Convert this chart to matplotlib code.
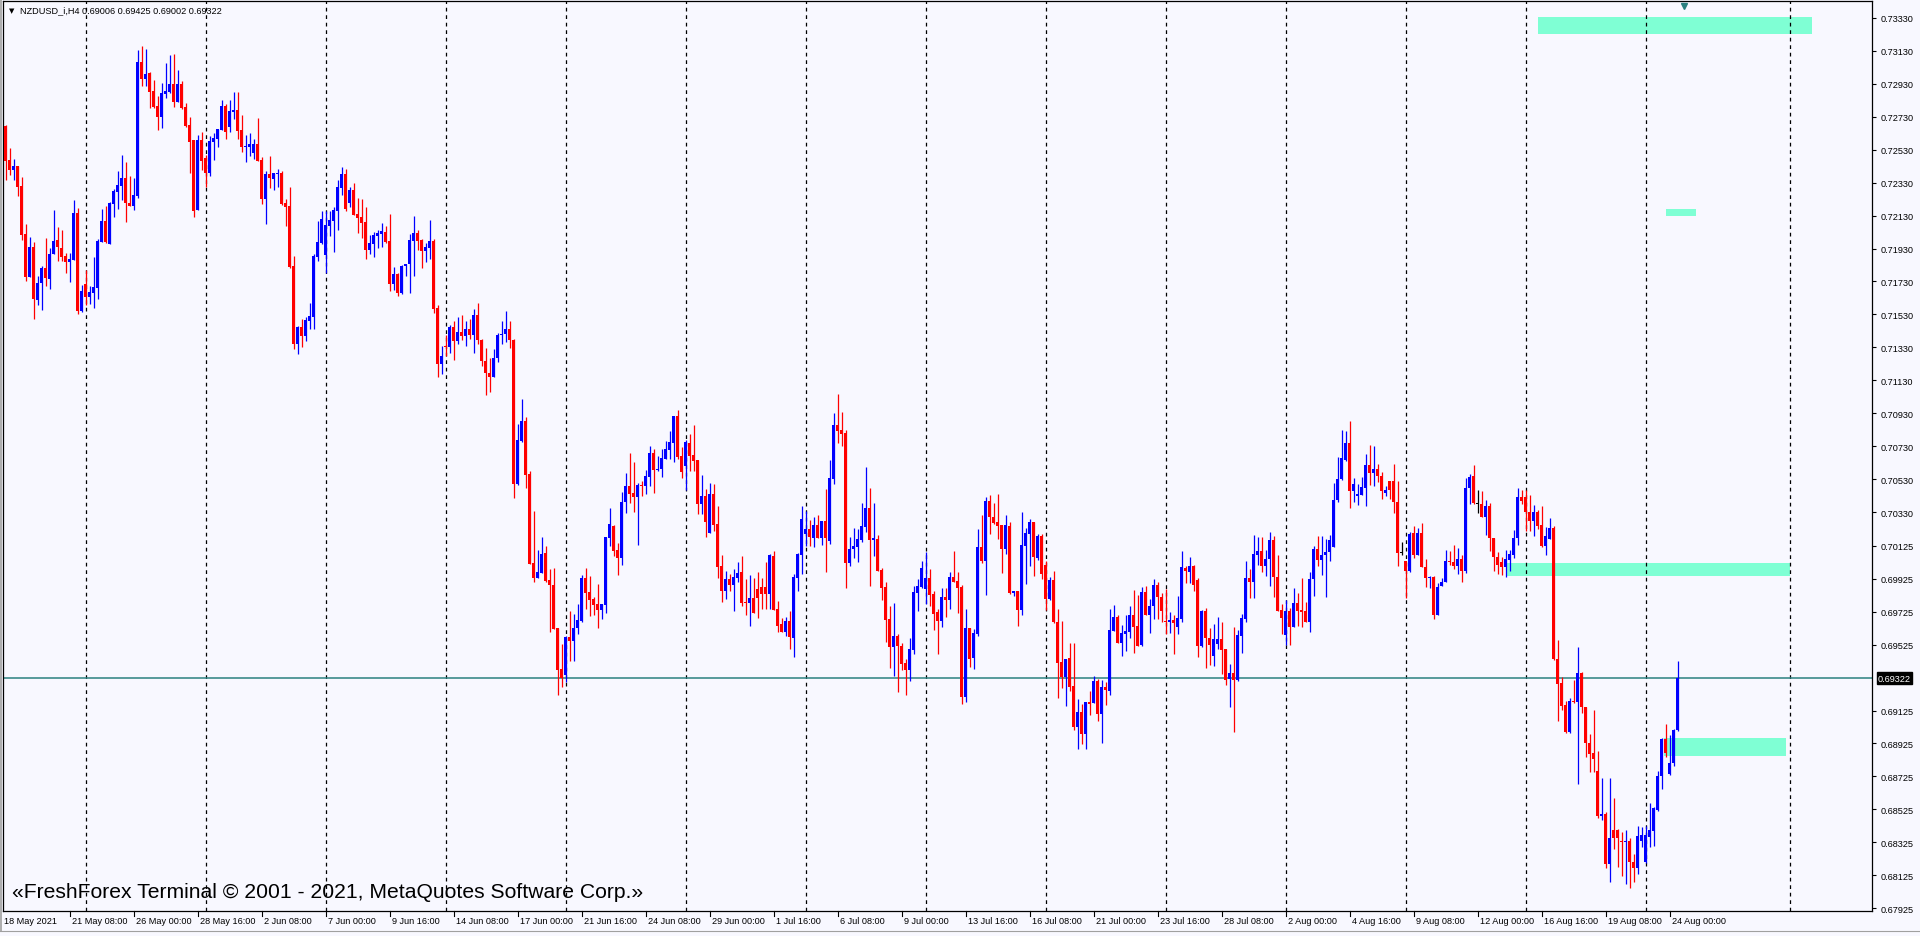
import numpy as np
import matplotlib
matplotlib.use('Agg')
import matplotlib.pyplot as plt
from matplotlib.patches import Rectangle
from matplotlib.transforms import blended_transform_factory, offset_copy

plt.rcParams['font.family'] = ['Liberation Sans', 'DejaVu Sans']

# NZDUSD H4 candles, prices in points (1e-5), bar 0 = 18/19 May 2021
opens = [72676, 72468, 72405, 72431, 72310, 72018, 71759, 71939, 71620, 71721,
         71812, 71747, 71897, 71982, 71933, 71885, 71848, 71862, 72146, 71551,
         71715, 71638, 71662, 71693, 71972, 72097, 71960, 72203, 72273, 72310,
         72358, 72209, 72190, 72249, 73063, 72959, 72996, 72887, 72795, 72729,
         72868, 72880, 72929, 72820, 72929, 72789, 72680, 72589, 72164, 72589,
         72480, 72391, 72577, 72595, 72652, 72795, 72668, 72761, 72771, 72650,
         72547, 72547, 72510, 72565, 72468, 72231, 72383, 72352, 72383, 72389,
         72207, 72188, 71824, 71350, 71456, 71400, 71490, 71516, 71879, 71964,
         71891, 72067, 72097, 72158, 72298, 72383, 72207, 72285, 72140, 72122,
         72091, 71921, 71958, 72006, 72018, 72030, 71976, 71715, 71775, 71660,
         71824, 71836, 71976, 72024, 71982, 71915, 71933, 71976, 71569, 71229,
         71338, 71332, 71454, 71369, 71423, 71399, 71441, 71405, 71526, 71375,
         71247, 71174, 71150, 71265, 71405, 71411, 71441, 71375, 70500, 70761,
         70883, 70561, 70021, 69930, 69960, 70081, 69917, 69887, 69626, 69377,
         69341, 69571, 69547, 69626, 69669, 69930, 69845, 69802, 69772, 69735,
         69766, 70172, 70245, 70100, 70051, 70391, 70488, 70446, 70421, 70494,
         70488, 70543, 70688, 70585, 70591, 70652, 70707, 70749, 70913, 70670,
         70610, 70749, 70676, 70646, 70379, 70427, 70203, 70440, 70257, 70002,
         69851, 69923, 69887, 69930, 69966, 69784, 69778, 69808, 69863, 69875,
         69875, 69832, 70063, 69741, 69650, 69602, 69669, 69565, 69930, 70069,
         70197, 70227, 70172, 70251, 70172, 70276, 70154, 70531, 70859, 70828,
         70810, 70021, 70106, 70118, 70161, 70240, 70355, 70161, 70167, 69979,
         69876, 69681, 69511, 69578, 69517, 69414, 69372, 69493, 69839, 69876,
         69864, 69930, 69833, 69724, 69669, 69815, 69797, 69936, 69912, 69876,
         69208, 69627, 69444, 69590, 70118, 70033, 70398, 70301, 70270, 70252,
         70106, 70246, 69839, 69851, 69736, 70124, 70197, 70270, 70052, 70185,
         70009, 69803, 69918, 69663, 69420, 69329, 69444, 69274, 69026, 69117,
         68983, 69177, 69171, 69305, 69104, 69268, 69244, 69608, 69693, 69536,
         69590, 69602, 69705, 69639, 69523, 69845, 69705, 69760, 69888, 69815,
         69669, 69663, 69675, 69633, 69681, 69991, 69967, 70003, 69918, 69517,
         69730, 69566, 69457, 69530, 69560, 69499, 69317, 69353, 69311, 69578,
         69681, 69930, 69906, 70070, 70094, 70003, 70046, 70161, 69933, 69736,
         69582, 69730, 69631, 69777, 69736, 69730, 69662, 69923, 70104, 70042,
         70069, 70089, 70118, 70401, 70530, 70648, 70748, 70457, 70426, 70436,
         70479, 70613, 70569, 70590, 70547, 70448, 70516, 70516, 70389, 70083,
         70032, 69974, 70204, 70071, 70204, 69995, 69929, 69935, 69703, 69882,
         69908, 70032, 70024, 70001, 70046, 69970, 70475, 70547, 70381, 70381,
         70299, 70364, 70171, 70060, 70026, 69999, 70040, 70069, 70171, 70422,
         70422, 70333, 70278, 70333, 70251, 70124, 70165, 70231, 69440, 69293,
         69157, 68995, 69180, 69174, 69354, 69145, 68929, 68868, 68759, 68486,
         68496, 68195, 68400, 68400, 68332, 68328, 68334, 68205, 68168, 68334,
         68205, 68359, 68394, 68523, 68728, 68954, 68738, 68804, 69006]
highs = [72680, 72540, 72474, 72431, 72364, 72079, 72000, 71968, 71765, 71824,
         71994, 71933, 72164, 72061, 72043, 71903, 71903, 72225, 72176, 71709,
         71800, 71703, 71879, 71988, 72170, 72190, 72211, 72294, 72401, 72498,
         72455, 72370, 72358, 73135, 73160, 73142, 73002, 72953, 72856, 72935,
         73057, 73105, 73111, 73014, 72947, 72814, 72729, 72589, 72619, 72638,
         72498, 72613, 72632, 72656, 72834, 72808, 72832, 72880, 72880, 72741,
         72619, 72632, 72595, 72723, 72486, 72401, 72492, 72389, 72413, 72401,
         72231, 72304, 71885, 71460, 71502, 71514, 71599, 71897, 72097, 72158,
         72158, 72158, 72182, 72346, 72425, 72413, 72304, 72328, 72237, 72231,
         72182, 72012, 72030, 72043, 72085, 72067, 72140, 71818, 71782, 71830,
         71836, 72018, 72128, 72043, 71988, 71964, 72103, 71990, 71587, 71338,
         71405, 71466, 71490, 71514, 71526, 71490, 71502, 71563, 71599, 71381,
         71326, 71265, 71320, 71417, 71490, 71551, 71490, 71381, 70865, 71016,
         70907, 70579, 70336, 70100, 70178, 70124, 69984, 69990, 69626, 69529,
         69577, 69729, 69711, 69772, 69948, 69990, 69942, 69814, 69893, 69772,
         70178, 70355, 70251, 70142, 70452, 70567, 70688, 70634, 70506, 70519,
         70585, 70731, 70713, 70670, 70713, 70761, 70822, 70913, 70950, 70725,
         70767, 70804, 70859, 70646, 70555, 70470, 70506, 70500, 70367, 70069,
         69972, 69954, 69984, 70027, 70063, 69923, 69948, 69930, 69966, 69930,
         70027, 70075, 70094, 69790, 69687, 69693, 69729, 69954, 70081, 70367,
         70336, 70282, 70300, 70312, 70276, 70470, 70646, 70931, 71047, 70937,
         70828, 70178, 70234, 70228, 70386, 70604, 70477, 70386, 70191, 69991,
         69906, 69760, 69778, 69590, 69536, 69438, 69566, 69882, 69924, 70033,
         70088, 69985, 69851, 69742, 69869, 69869, 69967, 70094, 69967, 69888,
         69742, 69627, 69620, 70228, 70313, 70422, 70434, 70386, 70440, 70252,
         70313, 70270, 69851, 69851, 70331, 70234, 70288, 70270, 70197, 70197,
         70033, 69936, 69973, 69742, 69669, 69438, 69536, 69536, 69195, 69165,
         69177, 69244, 69335, 69317, 69311, 69299, 69742, 69766, 69705, 69645,
         69705, 69760, 69857, 69827, 69876, 69882, 69803, 69924, 69906, 69839,
         69863, 69724, 69705, 69821, 70094, 70003, 70058, 70009, 69930, 69736,
         69748, 69627, 69651, 69693, 69663, 69499, 69408, 69633, 69614, 69712,
         70033, 69985, 70191, 70179, 70179, 70100, 70209, 70186, 70069, 69773,
         69798, 69748, 69872, 69837, 69929, 69785, 69964, 70124, 70184, 70184,
         70169, 70192, 70504, 70662, 70828, 70822, 70884, 70535, 70498, 70541,
         70684, 70736, 70732, 70621, 70572, 70487, 70518, 70623, 70520, 70149,
         70032, 70210, 70243, 70231, 70262, 70046, 69943, 69943, 69898, 69929,
         70102, 70093, 70128, 70114, 70071, 70535, 70561, 70617, 70467, 70459,
         70405, 70387, 70171, 70087, 70056, 70102, 70102, 70221, 70477, 70463,
         70467, 70432, 70374, 70344, 70364, 70237, 70294, 70247, 69553, 69330,
         69180, 69204, 69309, 69508, 69358, 69145, 68981, 69129, 68878, 68714,
         68509, 68714, 68595, 68404, 68390, 68400, 68349, 68256, 68427, 68420,
         68427, 68564, 68539, 68759, 68960, 69042, 68975, 69016, 69425]
lows = [72348, 72379, 72348, 72251, 71984, 71735, 71755, 71504, 71589, 71559,
        71705, 71686, 71897, 71854, 71854, 71784, 71729, 71862, 71535, 71545,
        71589, 71593, 71571, 71626, 71968, 71964, 71958, 72124, 72170, 72227,
        72093, 72190, 72164, 72237, 72917, 72917, 72783, 72781, 72652, 72662,
        72844, 72874, 72789, 72820, 72777, 72668, 72391, 72124, 72164, 72407,
        72304, 72370, 72468, 72547, 72652, 72595, 72638, 72717, 72595, 72518,
        72455, 72492, 72474, 72462, 72201, 72079, 72298, 72285, 72304, 72194,
        72069, 71814, 71320, 71290, 71330, 71370, 71440, 71441, 71854, 71958,
        71782, 72006, 71909, 72043, 72255, 72158, 72182, 72134, 72024, 71994,
        71866, 71897, 71879, 71933, 71939, 71964, 71672, 71678, 71642, 71654,
        71763, 71660, 71763, 71921, 71812, 71848, 71866, 71537, 71152, 71168,
        71277, 71296, 71253, 71350, 71375, 71338, 71381, 71296, 71350, 71217,
        71041, 71059, 71150, 71241, 71350, 71362, 71326, 70415, 70494, 70755,
        70476, 70015, 69905, 69930, 69960, 69905, 69602, 69620, 69219, 69268,
        69298, 69426, 69426, 69590, 69662, 69741, 69699, 69705, 69626, 69681,
        69717, 70124, 70063, 69948, 70008, 70324, 70385, 70330, 70130, 70427,
        70440, 70488, 70446, 70579, 70543, 70652, 70652, 70634, 70652, 70537,
        70464, 70579, 70579, 70318, 70318, 70178, 70203, 70215, 69930, 69784,
        69802, 69851, 69729, 69905, 69760, 69705, 69638, 69717, 69687, 69741,
        69741, 69741, 69735, 69602, 69602, 69577, 69498, 69450, 69851, 69954,
        70124, 70124, 70118, 70172, 70130, 69966, 70136, 70500, 70749, 70731,
        69869, 70002, 70052, 70027, 70149, 70209, 69882, 70064, 69973, 69797,
        69542, 69384, 69335, 69238, 69372, 69220, 69305, 69469, 69730, 69869,
        69772, 69760, 69614, 69469, 69633, 69693, 69742, 69906, 69718, 69165,
        69177, 69390, 69378, 69578, 70021, 69827, 70197, 70258, 70167, 69961,
        70076, 69833, 69821, 69639, 69706, 69894, 70003, 69942, 70039, 69924,
        69736, 69797, 69657, 69202, 69262, 69153, 69244, 69007, 68892, 68922,
        68892, 69098, 69171, 69062, 68928, 69159, 69220, 69608, 69536, 69457,
        69487, 69566, 69475, 69517, 69517, 69705, 69596, 69681, 69681, 69663,
        69590, 69596, 69469, 69590, 69663, 69900, 69900, 69851, 69450, 69511,
        69384, 69402, 69396, 69499, 69347, 69280, 69147, 68995, 69305, 69475,
        69663, 69809, 69809, 70009, 69967, 69942, 69882, 69816, 69730, 69588,
        69521, 69521, 69631, 69638, 69631, 69662, 69599, 69822, 70005, 69950,
        69816, 70032, 70118, 70389, 70524, 70641, 70354, 70391, 70374, 70436,
        70364, 70494, 70487, 70514, 70407, 70430, 70409, 70327, 70005, 70067,
        69806, 69968, 70050, 70069, 69995, 69878, 69872, 69679, 69703, 69882,
        69905, 70011, 69985, 69954, 69908, 69962, 70377, 70377, 70323, 70299,
        70190, 70095, 69970, 69952, 69950, 69937, 69974, 70052, 70130, 70381,
        70216, 70216, 70186, 70227, 70120, 70069, 70165, 69432, 69063, 69129,
        68989, 68989, 69170, 68677, 69108, 68841, 68753, 68753, 68472, 68461,
        68168, 68082, 68287, 68174, 68123, 68071, 68045, 68082, 68133, 68297,
        68201, 68297, 68304, 68513, 68650, 68845, 68734, 68790, 69002]
closes = [72464, 72409, 72433, 72306, 72014, 71759, 71939, 71626, 71721, 71812,
          71753, 71897, 71976, 71939, 71879, 71848, 71866, 72146, 71551, 71672,
          71638, 71666, 71697, 71976, 72097, 71968, 72207, 72279, 72316, 72358,
          72209, 72190, 72255, 73063, 72959, 72990, 72880, 72789, 72729, 72874,
          72887, 72929, 72820, 72929, 72783, 72674, 72579, 72158, 72589, 72462,
          72391, 72583, 72601, 72656, 72795, 72638, 72765, 72771, 72644, 72547,
          72553, 72565, 72565, 72462, 72231, 72383, 72358, 72389, 72389, 72201,
          72182, 71818, 71350, 71456, 71400, 71496, 71520, 71885, 71970, 72109,
          72073, 72103, 72164, 72304, 72383, 72170, 72285, 72134, 72115, 72085,
          71921, 71964, 72012, 72024, 72037, 71970, 71715, 71775, 71660, 71824,
          71836, 71982, 72024, 71976, 71915, 71939, 71976, 71563, 71229, 71277,
          71332, 71454, 71369, 71423, 71399, 71441, 71405, 71526, 71375, 71247,
          71174, 71150, 71265, 71405, 71411, 71441, 71375, 70500, 70767, 70883,
          70555, 70015, 69930, 69966, 70075, 69911, 69887, 69620, 69371, 69322,
          69571, 69547, 69626, 69675, 69930, 69839, 69796, 69766, 69735, 69772,
          70178, 70257, 70094, 70051, 70391, 70488, 70440, 70421, 70494, 70488,
          70549, 70688, 70585, 70591, 70658, 70713, 70755, 70913, 70664, 70573,
          70755, 70670, 70640, 70379, 70427, 70270, 70440, 70251, 69996, 69851,
          69923, 69887, 69935, 69960, 69778, 69778, 69808, 69717, 69808, 69832,
          69832, 70069, 69735, 69638, 69602, 69669, 69571, 69936, 70075, 70288,
          70227, 70178, 70251, 70172, 70276, 70172, 70537, 70859, 70822, 70804,
          70021, 70106, 70124, 70167, 70246, 70355, 70161, 70173, 69973, 69869,
          69675, 69511, 69578, 69517, 69408, 69372, 69499, 69845, 69882, 69991,
          69930, 69827, 69712, 69669, 69815, 69797, 69936, 69906, 69869, 69208,
          69627, 69438, 69596, 70118, 70033, 70398, 70301, 70264, 70246, 70106,
          70252, 69839, 69851, 69736, 70131, 70203, 70270, 70058, 70185, 69954,
          69803, 69918, 69663, 69414, 69329, 69438, 69268, 69026, 69117, 68983,
          69177, 69165, 69305, 69104, 69268, 69250, 69614, 69693, 69536, 69596,
          69608, 69705, 69633, 69517, 69845, 69705, 69760, 69888, 69815, 69730,
          69663, 69675, 69657, 69687, 69997, 69973, 70003, 69888, 69517, 69730,
          69566, 69523, 69560, 69560, 69493, 69311, 69353, 69311, 69584, 69687,
          69930, 69906, 70076, 70094, 70003, 70046, 70161, 69933, 69730, 69687,
          69730, 69631, 69777, 69730, 69724, 69662, 69923, 70104, 70042, 70069,
          70089, 70159, 70405, 70530, 70658, 70748, 70457, 70498, 70442, 70485,
          70613, 70569, 70590, 70547, 70455, 70467, 70463, 70389, 70083, 70083,
          69974, 70196, 70071, 70204, 69995, 69929, 69935, 69703, 69874, 69908,
          70032, 70024, 70001, 70046, 69974, 70475, 70541, 70383, 70381, 70299,
          70364, 70171, 70060, 70011, 69999, 70044, 70073, 70171, 70422, 70395,
          70333, 70278, 70333, 70247, 70124, 70186, 70231, 69436, 69289, 69153,
          68995, 69184, 69174, 69350, 69145, 68929, 68861, 68831, 68486, 68496,
          68195, 68349, 68349, 68349, 68328, 68332, 68205, 68168, 68363, 68369,
          68369, 68400, 68533, 68728, 68954, 68866, 68804, 69005, 69322]

# x-axis time labels, one every 16 bars
time_labels = ['18 May 2021', '21 May 08:00', '26 May 00:00', '28 May 16:00', '2 Jun 08:00',
               '7 Jun 00:00', '9 Jun 16:00', '14 Jun 08:00', '17 Jun 00:00', '21 Jun 16:00',
               '24 Jun 08:00', '29 Jun 00:00', '1 Jul 16:00', '6 Jul 08:00', '9 Jul 00:00',
               '13 Jul 16:00', '16 Jul 08:00', '21 Jul 00:00', '23 Jul 16:00', '28 Jul 08:00',
               '2 Aug 00:00', '4 Aug 16:00', '9 Aug 08:00', '12 Aug 00:00', '16 Aug 16:00',
               '19 Aug 08:00', '24 Aug 00:00']
price_labels = ['0.73330', '0.73130', '0.72930', '0.72730', '0.72530', '0.72330', '0.72130',
                '0.71930', '0.71730', '0.71530', '0.71330', '0.71130', '0.70930', '0.70730',
                '0.70530', '0.70330', '0.70125', '0.69925', '0.69725', '0.69525', '0.69125',
                '0.68925', '0.68725', '0.68525', '0.68325', '0.68125', '0.67925']
week_starts = [20, 50, 80, 110, 140, 170, 200, 230, 260, 290, 320, 350, 380, 410, 446]
bid = 0.69322
header = 'NZDUSD_i,H4 0.69006 0.69425 0.69002 0.69322'

# aquamarine zones: start bar, end bar, low, high
zone_start = [383.0, 415.0, 375.0, 414.5]
zone_end = [451.5, 422.5, 446.0, 445.0]
zone_low = [0.73232, 0.72130, 0.69942, 0.68849]
zone_high = [0.73334, 0.72172, 0.70021, 0.68958]

W, H = 1920, 937
fig = plt.figure(figsize=(W / 100, H / 100), dpi=100, facecolor='#f8f8ff')
ax = fig.add_axes([3 / W, 1 - 912 / H, (1872 - 3) / W, (912 - 2) / H])
ax.set_facecolor('#f8f8ff')

o = np.array(opens) / 1e5
h = np.array(highs) / 1e5
l = np.array(lows) / 1e5
c = np.array(closes) / 1e5
x = np.arange(len(o))
col = np.where(c > o, '#0000ff', np.where(c < o, '#ff0000', '#000000'))

for xs, xe, lo, hi in zip(zone_start, zone_end, zone_low, zone_high):
    ax.add_patch(Rectangle((xs, lo), xe - xs, hi - lo, facecolor='#7fffd4',
                           edgecolor='none', zorder=1))

for b in week_starts:
    ax.axvline(b, color='black', lw=0.9, ls=(0, (3, 3)), zorder=2)

ax.axhline(bid, color='#2a8080', lw=1.1, zorder=2)

ax.vlines(x, l, h, colors=col, lw=0.9, zorder=3)
body_lo = np.minimum(o, c)
body_h = np.maximum(np.abs(c - o), 0.00006)
ax.bar(x, body_h, 0.72, bottom=body_lo, color=col, linewidth=0, zorder=4)

ax.set_xlim(-0.625, 466.6)
ax.set_ylim(0.67908, 0.73433)

for s in ax.spines.values():
    s.set_color('black')
    s.set_linewidth(0.9)

ax.set_xticks([])
ax.yaxis.tick_right()
ax.set_yticks([float(v) for v in price_labels])
ax.set_yticklabels(price_labels, fontsize=6.6)
ax.tick_params(axis='y', length=3, width=0.8, pad=3, colors='black')

# time labels
tb = blended_transform_factory(ax.transData, ax.transAxes)
ax.text(0.0, -0.006, time_labels[0], transform=offset_copy(ax.transAxes, fig, x=1, y=0, units='dots'),
        fontsize=6.6, ha='left', va='top')
for k, lab in enumerate(time_labels[1:], start=1):
    ax.plot([16 * k, 16 * k], [0, -0.005], transform=tb, color='black', lw=0.8,
            clip_on=False)
    ax.text(16 * k, -0.006, lab, transform=offset_copy(tb, fig, x=2, y=0, units='dots'),
            fontsize=6.6, ha='left', va='top')

# bid price box
ax.text(1.0, bid, '0.69322', transform=offset_copy(
    blended_transform_factory(ax.transAxes, ax.transData), fig, x=6, y=0, units='dots'),
    fontsize=6.6, color='white', ha='left', va='center',
    bbox=dict(boxstyle='square,pad=0.15', facecolor='black', edgecolor='black'))

# header and watermark
fig.text(9 / W, 1 - 11 / H, '\u25bc', fontsize=5, ha='left', va='center', color='black',
         family=['DejaVu Sans'])
fig.text(20 / W, 1 - 11 / H, header, fontsize=6.6, ha='left', va='center')
fig.text(12 / W, 1 - 893 / H,
         '\u00abFreshForex Terminal \u00a9 2001 - 2021, MetaQuotes Software Corp.\u00bb',
         fontsize=15.2, ha='left', va='center')

# window frame bits
fig.add_artist(plt.Line2D([0, 1], [1 - 932 / H, 1 - 932 / H], transform=fig.transFigure,
                          color='#a0a0a0', lw=0.8))
fig.add_artist(plt.Line2D([0.6 / W, 0.6 / W], [1 - 932 / H, 1], transform=fig.transFigure,
                          color='#a0a0a0', lw=1.2))

# marker at top
ax.plot([419.6], [0.73405], marker='v', color='#2a8080', markersize=5, clip_on=False, zorder=5)

fig.savefig('out.png', dpi=100, facecolor=fig.get_facecolor())
